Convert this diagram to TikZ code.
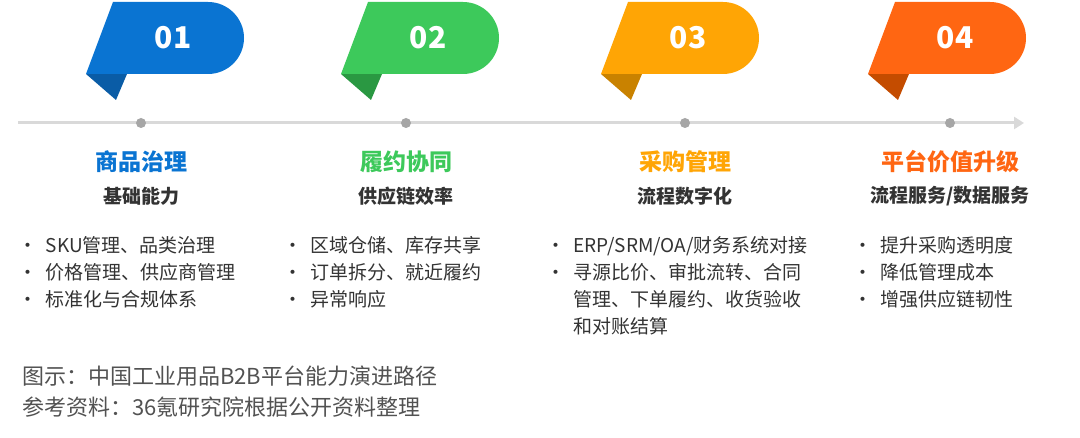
\documentclass[tikz,border=0pt]{standalone}
\usepackage{fontspec}
\setmainfont{Noto Sans CJK SC}
\usetikzlibrary{arrows.meta}
\definecolor{cA}{HTML}{0A74D2}\definecolor{dA}{HTML}{0A5CA6}
\definecolor{cB}{HTML}{3DC95B}\definecolor{dB}{HTML}{2A9842}
\definecolor{cC}{HTML}{FFA505}\definecolor{dC}{HTML}{C98200}
\definecolor{cD}{HTML}{FF6612}\definecolor{dD}{HTML}{C44C00}
\definecolor{txt}{HTML}{333333}
\tikzset{
  num/.style={text=white,font=\bfseries\fontsize{30}{32}\selectfont},
  head/.style={font=\bfseries\fontsize{23}{25}\selectfont},
  sub/.style={text=txt,font=\bfseries\fontsize{19}{21}\selectfont},
  blt/.style={text=txt,anchor=west,font=\fontsize{19}{27}\selectfont,align=left,inner sep=0pt},
  captext/.style={text=txt!85,anchor=west,font=\fontsize{22}{24}\selectfont,inner sep=0pt},
  dot/.style={circle,fill=gray!70,inner sep=0pt,minimum size=10pt}
}
\newcommand{\mybanner}[5]{%
  \begin{scope}[shift={(#1,0)}]
  \fill[#3] (86,74) -- (127,74) -- (116,100) -- cycle;
  \fill[#2] (113,2) -- (208,2) arc[start angle=-90,end angle=90,radius=36] -- (86,74) -- cycle;
  \node[num] (#5) at (173,38) {#4};
  \end{scope}}
\begin{document}
\begin{tikzpicture}[x=1pt,y=-1pt]
\useasboundingbox[fill=white] (0,0) rectangle (1080,438);
\coordinate (ls) at (18,123);
\coordinate (le) at (1024,123);
\draw[line width=3pt,gray!30,-{Triangle[length=10pt,width=12pt]}] (ls) -- (le);
\mybanner{0}{cA}{dA}{01}{n1}
\mybanner{255}{cB}{dB}{02}{n2}
\mybanner{515}{cC}{dC}{03}{n3}
\mybanner{782}{cD}{dD}{04}{n4}
\node[dot] (d1) at (141,123) {};
\node[dot] (d2) at (406,123) {};
\node[dot] (d3) at (685,123) {};
\node[dot] (d4) at (950,123) {};
\node[head,text=cA] (h1) at (141,162) {商品治理};
\node[head,text=cB] (h2) at (406,162) {履约协同};
\node[head,text=cC] (h3) at (685,162) {采购管理};
\node[head,text=cD] (h4) at (950,162) {平台价值升级};
\node[sub] (s1) at (141,196) {基础能力};
\node[sub] (s2) at (406,196) {供应链效率};
\node[sub] (s3) at (685,196) {流程数字化};
\node[sub] (s4) at (950,196) {流程服务/数据服务};
\node[blt,anchor=north west] (b1) at (18,236) {•\ \ SKU管理、品类治理\\•\ \ 价格管理、供应商管理\\•\ \ 标准化与合规体系};
\node[blt,anchor=north west] (b2) at (283,236) {•\ \ 区域仓储、库存共享\\•\ \ 订单拆分、就近履约\\•\ \ 异常响应};
\node[blt,anchor=north west] (b3) at (546,236) {•\ \ ERP/SRM/OA/财务系统对接\\•\ \ 寻源比价、审批流转、合同\\\phantom{•}\ \ 管理、下单履约、收货验收\\\phantom{•}\ \ 和对账结算};
\node[blt,anchor=north west] (b4) at (853,236) {•\ \ 提升采购透明度\\•\ \ 降低管理成本\\•\ \ 增强供应链韧性};
\node[captext] (c1) at (22,376) {图示：中国工业用品B2B平台能力演进路径};
\node[captext] (c2) at (22,407) {参考资料：36氪研究院根据公开资料整理};
\end{tikzpicture}
\end{document}
